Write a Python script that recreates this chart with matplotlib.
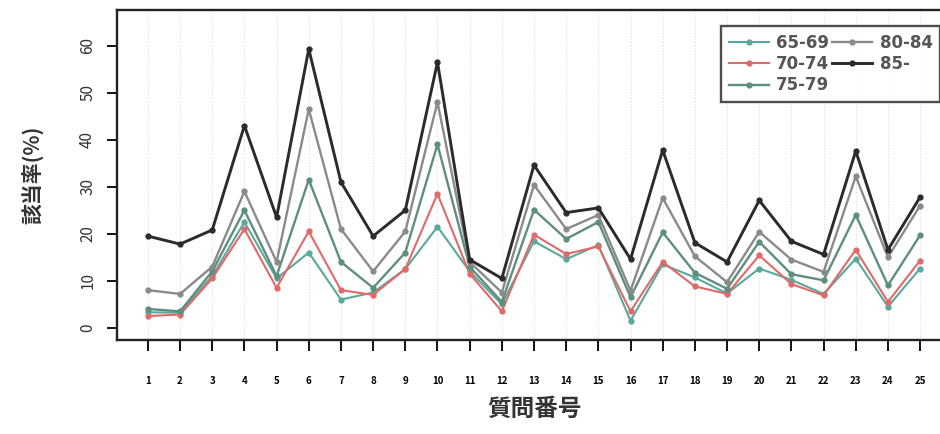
import numpy as np
import matplotlib.pyplot as plt

plt.rcParams['font.family'] = ['Noto Sans CJK JP', 'DejaVu Sans']

questions = list(range(1, 26))
age_groups = ['65-69', '70-74', '75-79', '80-84', '85-']

# 該当率(%) per age group
r65_69 = [3.3, 3.2, 11, 22.5, 10.5, 16, 6, 7.5, 12.5, 21.5, 12, 5,
          18.4, 14.6, 17.6, 1.5, 13.5, 10.7, 7.3, 12.6, 10.2, 7.2, 14.7, 4.5, 12.6]
r70_74 = [2.5, 2.8, 10.5, 21, 8.5, 20.5, 8, 7, 12.5, 28.5, 11.5, 3.5,
          19.8, 15.7, 17.3, 3.5, 14.0, 8.8, 7.2, 15.4, 9.3, 6.9, 16.6, 5.5, 14.3]
r75_79 = [4, 3.5, 12, 25, 11, 31.5, 14, 8.5, 16, 39, 13, 5.5,
          25.1, 18.9, 22.5, 6.5, 20.3, 11.7, 8.3, 18.3, 11.4, 10.1, 24, 9, 19.7]
r80_84 = [8, 7.2, 13, 29, 14, 46.5, 21, 12, 20.5, 48, 14, 7.5,
          30.4, 21, 24, 7.9, 27.6, 15.2, 9.7, 20.4, 14.5, 11.9, 32.2, 15, 26]
r85 = [19.5, 17.8, 20.8, 43, 23.5, 59.3, 31, 19.5, 25, 56.5, 14.5, 10.5,
       34.6, 24.5, 25.5, 14.6, 37.8, 18.1, 14.0, 27.1, 18.4, 15.6, 37.6, 16.6, 27.8]

series = [r65_69, r70_74, r75_79, r80_84, r85]
colors = ['#5aa89c', '#e06a6a', '#5e8e7e', '#8a8a8a', '#2b2b2b']
widths = [1.5, 1.5, 1.7, 1.7, 2.1]

fig = plt.figure(figsize=(9.4, 4.34), dpi=100)
ax = fig.add_axes([117 / 940, 1 - 340 / 434, (951 - 117) / 940, 330 / 434])

for q in questions:
    ax.axvline(q, color='#dddddd', lw=0.8, ls=':', zorder=0)

for vals, name, c, w in zip(series, age_groups, colors, widths):
    ax.plot(questions, vals, color=c, lw=w, marker='o', ms=3.5, label=name)

ax.set_xlim(0.04, 25.96)
ax.set_ylim(-2.6, 67.6)
ax.set_xticks(questions)
ax.set_xticklabels([str(q) for q in questions], fontsize=7, fontweight='bold')
ax.set_yticks(range(0, 70, 10))
ax.set_yticklabels([str(v) for v in range(0, 70, 10)], rotation=90, va='center',
                   fontsize=11, color='#333333')
ax.tick_params(axis='x', direction='out', length=8, width=1.3, pad=18)
ax.tick_params(axis='y', direction='out', length=7, width=1.3, pad=8)
for s in ax.spines.values():
    s.set_linewidth(1.7)
    s.set_color('#222222')

ax.set_xlabel('質問番号', fontsize=17, fontweight='bold', color='#333333', labelpad=8)
ax.set_ylabel('該当率(%)', fontsize=15, fontweight='bold', color='#333333', labelpad=26)

leg = ax.legend(ncol=2, loc='upper left', bbox_to_anchor=(713 / 940, 1 - 18 / 434),
                bbox_transform=fig.transFigure,
                frameon=True, fancybox=False, handlelength=2.4,
                columnspacing=0.15, handletextpad=0.45, labelspacing=0.2,
                borderpad=0.45, prop={'family': 'DejaVu Sans', 'weight': 'bold', 'size': 12})
leg.get_frame().set_edgecolor('#222222')
leg.get_frame().set_linewidth(1.7)
for t in leg.get_texts():
    t.set_color('#555555')

fig.savefig('out.png', dpi=100)
